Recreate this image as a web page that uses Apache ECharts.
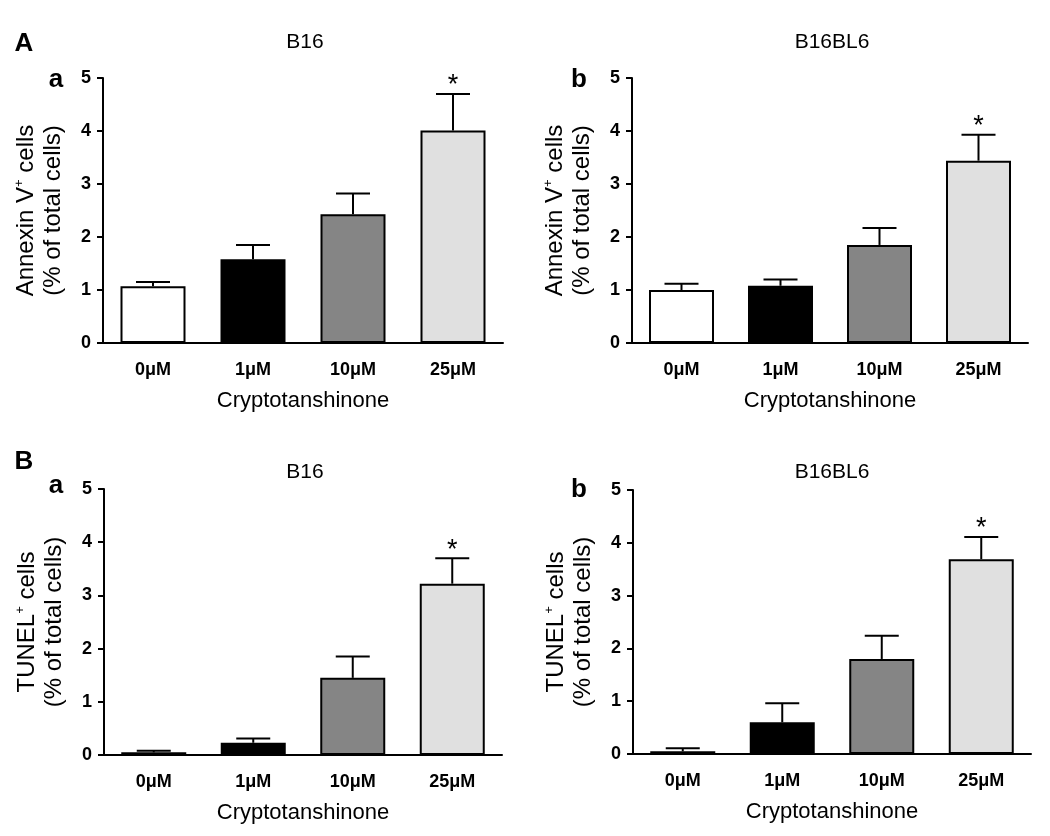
<!DOCTYPE html>
<html>
<head>
<meta charset="utf-8">
<script src="https://cdn.jsdelivr.net/npm/echarts@6/dist/echarts.min.js"></script>
<style>
html,body{margin:0;padding:0;background:#fff;}
#chart{width:1050px;height:836px;}
</style>
</head>
<body>
<div id="chart"></div>
<script>
// ---- data ----
const categories = ['0μM', '1μM', '10μM', '25μM'];
const yTicks = [0, 1, 2, 3, 4, 5];
const barColors = ['#ffffff', '#000000', '#858585', '#e0e0e0'];

const annexinB16 = [1.07, 1.58, 2.43, 4.01];
const annexinB16Err = [0.08, 0.27, 0.39, 0.69];
const annexinB16Sig = [false, false, false, true];

const annexinBL6 = [1.00, 1.08, 1.85, 3.44];
const annexinBL6Err = [0.12, 0.12, 0.32, 0.49];
const annexinBL6Sig = [false, false, false, true];

const tunelB16 = [0.05, 0.23, 1.45, 3.22];
const tunelB16Err = [0.03, 0.08, 0.40, 0.48];
const tunelB16Sig = [false, false, false, true];

const tunelBL6 = [0.05, 0.60, 1.80, 3.69];
const tunelBL6Err = [0.06, 0.36, 0.44, 0.42];
const tunelBL6Sig = [false, false, false, true];

const xName = 'Cryptotanshinone';
const panelTitles = ['B16', 'B16BL6', 'B16', 'B16BL6'];

// ---- layout ----
const FONT = '"Liberation Sans", Arial, Helvetica, sans-serif';
const grids = [
  {left: 103, top: 78, width: 400, height: 265},
  {left: 632, top: 78, width: 396, height: 265},
  {left: 104, top: 489, width: 398, height: 266},
  {left: 633, top: 490, width: 398, height: 264}
];

const panels = [
  {vals: annexinB16, err: annexinB16Err, sig: annexinB16Sig, label: 'Annexin V'},
  {vals: annexinBL6, err: annexinBL6Err, sig: annexinBL6Sig, label: 'Annexin V'},
  {vals: tunelB16, err: tunelB16Err, sig: tunelB16Sig, label: 'TUNEL'},
  {vals: tunelBL6, err: tunelBL6Err, sig: tunelBL6Sig, label: 'TUNEL'}
];

const xAxes = [], yAxes = [], series = [];
panels.forEach((p, i) => {
  xAxes.push({
    type: 'category', gridIndex: i, data: categories,
    boundaryGap: true,
    axisLine: {lineStyle: {color: '#000', width: 2}},
    axisTick: {alignWithLabel: true, length: 7, lineStyle: {color: '#000', width: 2}},
    axisLabel: {color: '#000', fontFamily: FONT, fontWeight: 'bold', fontSize: 18, margin: 18},
    name: xName, nameLocation: 'middle', nameGap: 47,
    nameTextStyle: {color: '#000', fontFamily: FONT, fontSize: 22}
  });
  yAxes.push({
    type: 'value', gridIndex: i, min: yTicks[0], max: yTicks[yTicks.length - 1], interval: 1,
    splitLine: {show: false},
    axisLine: {show: true, lineStyle: {color: '#000', width: 2}},
    axisTick: {show: true, length: 6, lineStyle: {color: '#000', width: 2}},
    axisLabel: {color: '#000', fontFamily: FONT, fontWeight: 'bold', fontSize: 18, margin: 12},
    name: '{a|' + p.label + '}{s|+}{a| cells}\n{a|(% of total cells)}',
    nameLocation: 'middle', nameRotate: 90, nameGap: 36,
    nameTextStyle: {
      color: '#000', fontFamily: FONT, fontSize: 24, align: 'center',
      rich: {
        a: {fontFamily: FONT, fontSize: 24, lineHeight: 27, color: '#000'},
        s: {fontFamily: FONT, fontSize: 13, lineHeight: 27, verticalAlign: 'top', color: '#000'}
      }
    }
  });
  series.push({
    type: 'bar', xAxisIndex: i, yAxisIndex: i, barWidth: 65,
    data: p.vals.map((v, k) => ({value: v, itemStyle: {color: barColors[k]}})),
    itemStyle: {borderColor: '#000', borderWidth: 2},
    emphasis: {disabled: true},
    silent: true, z: 2
  });
  series.push({
    type: 'custom', xAxisIndex: i, yAxisIndex: i, z: 3, silent: true,
    data: p.vals.map((v, k) => [k, v, p.err[k], p.sig[k] ? 1 : 0]),
    renderItem: function (params, api) {
      const k = api.value(0), v = api.value(1), e = api.value(2), s = api.value(3);
      const base = api.coord([k, v]);
      const top = api.coord([k, v + e]);
      const half = 17;
      const children = [
        {type: 'line', shape: {x1: base[0], y1: base[1], x2: top[0], y2: top[1]}, style: {stroke: '#000', lineWidth: 2}},
        {type: 'line', shape: {x1: top[0] - half, y1: top[1], x2: top[0] + half, y2: top[1]}, style: {stroke: '#000', lineWidth: 2}}
      ];
      if (s) {
        children.push({type: 'text', x: top[0], y: top[1] - 8,
          style: {text: '*', font: '27px ' + FONT, fill: '#000', textAlign: 'center', textVerticalAlign: 'middle'}});
      }
      return {type: 'group', children: children};
    }
  });
});

const titleFont = '21px ' + FONT;
const letterFont = 'bold 26px ' + FONT;
const graphic = [
  {type: 'text', x: 305, y: 42, style: {text: panelTitles[0], font: titleFont, fill: '#000', textAlign: 'center', textVerticalAlign: 'middle'}},
  {type: 'text', x: 832, y: 42, style: {text: panelTitles[1], font: titleFont, fill: '#000', textAlign: 'center', textVerticalAlign: 'middle'}},
  {type: 'text', x: 305, y: 472, style: {text: panelTitles[2], font: titleFont, fill: '#000', textAlign: 'center', textVerticalAlign: 'middle'}},
  {type: 'text', x: 832, y: 472, style: {text: panelTitles[3], font: titleFont, fill: '#000', textAlign: 'center', textVerticalAlign: 'middle'}},
  {type: 'text', x: 24, y: 44, style: {text: 'A', font: letterFont, fill: '#000', textAlign: 'center', textVerticalAlign: 'middle'}},
  {type: 'text', x: 56, y: 80, style: {text: 'a', font: letterFont, fill: '#000', textAlign: 'center', textVerticalAlign: 'middle'}},
  {type: 'text', x: 579, y: 80, style: {text: 'b', font: letterFont, fill: '#000', textAlign: 'center', textVerticalAlign: 'middle'}},
  {type: 'text', x: 24, y: 462, style: {text: 'B', font: letterFont, fill: '#000', textAlign: 'center', textVerticalAlign: 'middle'}},
  {type: 'text', x: 56, y: 486, style: {text: 'a', font: letterFont, fill: '#000', textAlign: 'center', textVerticalAlign: 'middle'}},
  {type: 'text', x: 579, y: 490, style: {text: 'b', font: letterFont, fill: '#000', textAlign: 'center', textVerticalAlign: 'middle'}}
];

const chart = echarts.init(document.getElementById('chart'), null, {renderer: 'canvas'});
chart.setOption({
  animation: false,
  backgroundColor: '#fff',
  grid: grids.map(g => Object.assign({containLabel: false}, g)),
  xAxis: xAxes,
  yAxis: yAxes,
  series: series,
  graphic: graphic
});
</script>
</body>
</html>
